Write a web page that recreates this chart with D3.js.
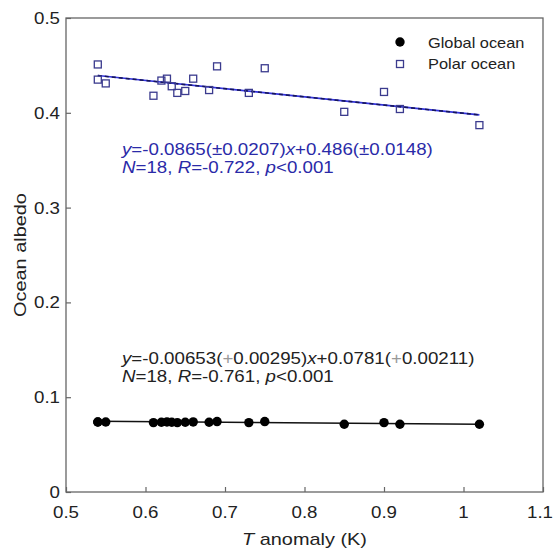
<!DOCTYPE html>
<html>
<head>
<meta charset="utf-8">
<script src="https://cdn.jsdelivr.net/npm/d3@7"></script>
<style>
  body { margin: 0; background: #fff; }
  svg { display: block; }
</style>
</head>
<body>
<svg id="chart" width="554" height="548"></svg>
<script>
// Annual temperature anomaly (K) and the matching ocean albedo values
const tAnomaly = [0.54, 0.54, 0.55, 0.61, 0.62, 0.627, 0.633, 0.64, 0.65, 0.66, 0.68, 0.69, 0.73, 0.75, 0.85, 0.90, 0.92, 1.02];
const globalAlbedo = [0.0738, 0.0738, 0.0738, 0.0732, 0.0736, 0.0739, 0.0736, 0.0732, 0.0736, 0.0739, 0.0736, 0.0743, 0.0732, 0.0743, 0.0715, 0.0732, 0.0715, 0.0715];
const polarAlbedo = [0.451, 0.435, 0.431, 0.418, 0.434, 0.436, 0.428, 0.421, 0.423, 0.436, 0.424, 0.449, 0.421, 0.447, 0.401, 0.422, 0.404, 0.387];

const seriesNames = ["Global ocean", "Polar ocean"];

// Least-squares fits quoted in the annotations
const fitGlobal = { slope: -0.00653, intercept: 0.0781 };
const fitPolar = { slope: -0.0865, intercept: 0.486 };

const xTickValues = [0.5, 0.6, 0.7, 0.8, 0.9, 1.0, 1.1];
const xTickLabels = ["0.5", "0.6", "0.7", "0.8", "0.9", "1", "1.1"];
const yTickValues = [0, 0.1, 0.2, 0.3, 0.4, 0.5];
const yTickLabels = ["0", "0.1", "0.2", "0.3", "0.4", "0.5"];

const W = 554, H = 548;
const plot = { left: 66, right: 543, top: 18, bottom: 492 };
const SX = 1.17;               // horizontal stretch applied to text
const FONT = "'Liberation Sans', Arial, sans-serif";
const BLUE = "#2a2aa8";
const SQUARE = "#3b3b8e";

const svg = d3.select("#chart");

const x = d3.scaleLinear().domain([0.5, 1.1]).range([plot.left, plot.right]);
const y = d3.scaleLinear().domain([0, 0.5]).range([plot.bottom, plot.top]);

// text helper: places a horizontally stretched label
function label(g, px, py, size, anchor) {
  return g.append("text")
    .attr("transform", `translate(${px},${py}) scale(${SX},1)`)
    .attr("text-anchor", anchor || "start")
    .style("font-family", FONT)
    .style("font-size", size + "px")
    .attr("fill", "#222");
}

// inward ticks
const xAxis = d3.axisBottom(x).tickValues(xTickValues).tickSize(-5).tickFormat("");
const yAxis = d3.axisLeft(y).tickValues(yTickValues).tickSize(-5).tickFormat("");
const gx = svg.append("g").attr("transform", `translate(0,${plot.bottom})`).call(xAxis);
const gy = svg.append("g").attr("transform", `translate(${plot.left},0)`).call(yAxis);
[gx, gy].forEach(g => {
  g.select(".domain").remove();
  g.selectAll(".tick line").attr("stroke", "#666").attr("stroke-width", 1.2);
});

// plot frame
svg.append("rect")
  .attr("x", plot.left).attr("y", plot.top)
  .attr("width", plot.right - plot.left).attr("height", plot.bottom - plot.top)
  .attr("fill", "none").attr("stroke", "#666").attr("stroke-width", 1.3);

// tick labels (x labels kept inside the canvas)
const tl = svg.append("g");
xTickValues.forEach((v, i) => {
  const t = label(tl, x(v), plot.bottom + 25.5, 16, "middle").text(xTickLabels[i]);
  const half = t.node().getComputedTextLength() * SX / 2;
  const cx = Math.min(x(v), W - 1 - half);
  t.attr("transform", `translate(${cx},${plot.bottom + 25.5}) scale(${SX},1)`);
});
yTickValues.forEach((v, i) => label(tl, plot.left - 6, y(v) + 6, 16, "end").text(yTickLabels[i]));

// axis titles
const xt = label(svg, (plot.left + plot.right) / 2, 545, 17, "middle");
xt.append("tspan").style("font-style", "italic").text("T");
xt.append("tspan").text(" anomaly (K)");

svg.append("text")
  .attr("transform", `translate(26,${(plot.top + plot.bottom) / 2}) rotate(-90) scale(${SX},1)`)
  .attr("text-anchor", "middle")
  .style("font-family", FONT).style("font-size", "17px")
  .attr("fill", "#222")
  .text("Ocean albedo");

// regression lines over the observed range
const xMin = d3.min(tAnomaly), xMax = d3.max(tAnomaly);
const fitLine = f => [[xMin, f.intercept + f.slope * xMin], [xMax, f.intercept + f.slope * xMax]];
const line = d3.line().x(d => x(d[0])).y(d => y(d[1]));

svg.append("path").datum(fitLine(fitGlobal))
  .attr("d", line).attr("fill", "none").attr("stroke", "#111").attr("stroke-width", 1.5);

svg.append("path").datum(fitLine(fitPolar))
  .attr("d", line).attr("fill", "none").attr("stroke", "#3333dd").attr("stroke-width", 1.6);
svg.append("path").datum(fitLine(fitPolar))
  .attr("d", line).attr("fill", "none").attr("stroke", "#16165a").attr("stroke-width", 1.6)
  .attr("stroke-dasharray", "4,3");

// global ocean points
svg.append("g").selectAll("circle")
  .data(tAnomaly.map((t, i) => [t, globalAlbedo[i]]))
  .join("circle")
  .attr("cx", d => x(d[0])).attr("cy", d => y(d[1]))
  .attr("r", 4.7).attr("fill", "#000");

// polar ocean points
const sq = 7;
svg.append("g").selectAll("rect")
  .data(tAnomaly.map((t, i) => [t, polarAlbedo[i]]))
  .join("rect")
  .attr("x", d => x(d[0]) - sq / 2).attr("y", d => y(d[1]) - sq / 2)
  .attr("width", sq).attr("height", sq)
  .attr("fill", "none").attr("stroke", SQUARE).attr("stroke-width", 1.3);

// legend
const lg = svg.append("g");
lg.append("circle").attr("cx", 400).attr("cy", 42).attr("r", 4.7).attr("fill", "#000");
lg.append("rect").attr("x", 400 - sq / 2).attr("y", 64 - sq / 2).attr("width", sq).attr("height", sq)
  .attr("fill", "none").attr("stroke", SQUARE).attr("stroke-width", 1.3);
label(lg, 428, 47.5, 14).text(seriesNames[0]);
label(lg, 428, 69, 14).text(seriesNames[1]);

// annotation helper: list of [text, italic, colour]
function annot(px, py, parts, color) {
  const t = label(svg, px, py, 16).attr("fill", color);
  parts.forEach(p => {
    const s = t.append("tspan").text(p[0]);
    if (p[1]) s.style("font-style", "italic");
    if (p[2]) s.attr("fill", p[2]);
  });
}

annot(122, 155, [["y", true], ["=-0.0865(±0.0207)"], ["x", true], ["+0.486(±0.0148)"]], BLUE);
annot(122, 173, [["N", true], ["=18, "], ["R", true], ["=-0.722, "], ["p", true], ["<0.001"]], BLUE);

annot(122, 364, [["y", true], ["=-0.00653("], ["+", false, "#999"], ["0.00295)"], ["x", true], ["+0.0781("], ["+", false, "#999"], ["0.00211)"]], "#222");
annot(122, 382, [["N", true], ["=18, "], ["R", true], ["=-0.761, "], ["p", true], ["<0.001"]], "#222");
</script>
</body>
</html>
